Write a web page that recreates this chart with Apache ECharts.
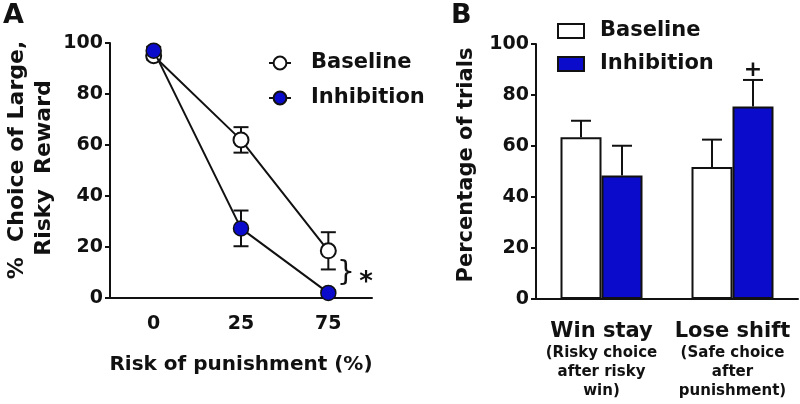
<!DOCTYPE html>
<html>
<head>
<meta charset="utf-8">
<script src="https://cdn.jsdelivr.net/npm/echarts@6/dist/echarts.min.js"></script>
<style>
  html, body { margin: 0; padding: 0; background: #fff; }
  #chart { width: 800px; height: 404px; }
</style>
</head>
<body>
<div id="chart"></div>
<script>
// ---------- Data ----------
const categoriesA = ['0', '25', '75'];
const baselineA = [95, 62, 18.5];
const baselineErrA = [1.5, 5, 7.3];
const inhibitionA = [97, 27.3, 2];
const inhibitionErrA = [1.5, 7, 1];

const categoriesB = ['Win stay', 'Lose shift'];
const subLabelsB = [['(Risky choice', 'after risky', 'win)'], ['(Safe choice', 'after', 'punishment)']];
const baselineB = [63.4, 51.8];
const baselineErrB = [6.5, 10.7];
const inhibitionB = [48.4, 75.5];
const inhibitionErrB = [11.7, 10.4];

const yTickInterval = 20;
const yMin = 0, yMax = 100;

// ---------- Styling ----------
const FONT = 'DejaVu Sans';
const BLUE = '#0b0bcc';
const INK = '#111111';
const BAR_W = 41;

function errBarsSym(values, errs) {
  return values.map((v, i) => [i, v - errs[i], v + errs[i]]);
}
function errBarsUp(values, errs) {
  return values.map((v, i) => [i, v, v + errs[i]]);
}
function errorRenderer(offset, capHalf) {
  return function (params, api) {
    const x = api.value(0);
    const lo = api.coord([x, api.value(1)]);
    const hi = api.coord([x, api.value(2)]);
    const cx = lo[0] + offset;
    const style = { stroke: INK, lineWidth: 2 };
    return {
      type: 'group',
      children: [
        { type: 'line', shape: { x1: cx, y1: lo[1], x2: cx, y2: hi[1] }, style },
        { type: 'line', shape: { x1: cx - capHalf, y1: hi[1], x2: cx + capHalf, y2: hi[1] }, style },
        { type: 'line', shape: { x1: cx - capHalf, y1: lo[1], x2: cx + capHalf, y2: lo[1] }, style }
      ]
    };
  };
}
function errorRendererUp(offset, capHalf) {
  return function (params, api) {
    const x = api.value(0);
    const lo = api.coord([x, api.value(1)]);
    const hi = api.coord([x, api.value(2)]);
    const cx = lo[0] + offset;
    const style = { stroke: INK, lineWidth: 2 };
    return {
      type: 'group',
      children: [
        { type: 'line', shape: { x1: cx, y1: lo[1], x2: cx, y2: hi[1] }, style },
        { type: 'line', shape: { x1: cx - capHalf, y1: hi[1], x2: cx + capHalf, y2: hi[1] }, style }
      ]
    };
  };
}

const axisLineStyle = { color: INK, width: 2 };
const tickLabelStyle = { fontFamily: FONT, fontWeight: 'bold', fontSize: 19, color: INK };

const chart = echarts.init(document.getElementById('chart'), null, { renderer: 'canvas' });

const option = {
  backgroundColor: '#ffffff',
  animation: false,
  textStyle: { fontFamily: FONT },
  grid: [
    { left: 110, top: 43, width: 262, height: 255, containLabel: false },
    { left: 536, top: 44, width: 262, height: 255, containLabel: false }
  ],
  legend: [
    {
      data: ['A:Baseline', 'A:Inhibition'],
      orient: 'vertical', left: 268, top: 52, itemGap: 13, padding: 0,
      itemWidth: 22, itemHeight: 16,
      selectedMode: false,
      formatter: n => n.split(':')[1],
      textStyle: { fontFamily: FONT, fontWeight: 'bold', fontSize: 21, color: INK, lineHeight: 22, padding: [0, 0, 0, 15] }
    },
    {
      data: ['B:Baseline', 'B:Inhibition'],
      orient: 'vertical', left: 557, top: 20, itemGap: 11, padding: 0,
      itemWidth: 26, itemHeight: 14, icon: 'rect',
      selectedMode: false,
      formatter: n => n.split(':')[1],
      textStyle: { fontFamily: FONT, fontWeight: 'bold', fontSize: 21, color: INK, lineHeight: 22, padding: [0, 0, 0, 11] }
    }
  ],
  xAxis: [
    {
      gridIndex: 0, type: 'category', data: categoriesA, boundaryGap: true,
      axisLine: { lineStyle: axisLineStyle },
      axisTick: { alignWithLabel: true, length: 6, lineStyle: { color: INK, width: 2 } },
      axisLabel: Object.assign({ margin: 17 }, tickLabelStyle),
      name: 'Risk of punishment (%)', nameLocation: 'middle', nameGap: 57,
      nameTextStyle: { fontFamily: FONT, fontWeight: 'bold', fontSize: 20, color: INK }
    },
    {
      gridIndex: 1, type: 'category', data: categoriesB, boundaryGap: true,
      axisLine: { lineStyle: axisLineStyle },
      axisTick: { alignWithLabel: true, length: 6, lineStyle: { color: INK, width: 2 } },
      axisLabel: {
        margin: 20, interval: 0,
        formatter: (v, i) => '{a|' + v + '}\n' + subLabelsB[i].map(s => '{b|' + s + '}').join('\n'),
        rich: {
          a: { fontFamily: FONT, fontWeight: 'bold', fontSize: 21, color: INK, lineHeight: 25 },
          b: { fontFamily: FONT, fontWeight: 'bold', fontSize: 15, color: INK, lineHeight: 19 }
        }
      }
    }
  ],
  yAxis: [
    {
      gridIndex: 0, type: 'value', min: yMin, max: yMax, interval: yTickInterval,
      axisLine: { show: true, lineStyle: axisLineStyle },
      axisTick: { show: true, length: 5, lineStyle: { color: INK, width: 2 } },
      splitLine: { show: false },
      axisLabel: Object.assign({ margin: 7 }, tickLabelStyle)
    },
    {
      gridIndex: 1, type: 'value', min: yMin, max: yMax, interval: yTickInterval,
      axisLine: { show: true, lineStyle: axisLineStyle },
      axisTick: { show: true, length: 5, lineStyle: { color: INK, width: 2 } },
      splitLine: { show: false },
      axisLabel: Object.assign({ margin: 7 }, tickLabelStyle)
    }
  ],
  series: [
    // ----- Panel A -----
    {
      type: 'custom', name: 'A:errBaseline', xAxisIndex: 0, yAxisIndex: 0, z: 1,
      renderItem: errorRenderer(0, 7.5), data: errBarsSym(baselineA, baselineErrA), silent: true
    },
    {
      type: 'custom', name: 'A:errInhibition', xAxisIndex: 0, yAxisIndex: 0, z: 1,
      renderItem: errorRenderer(0, 7.5), data: errBarsSym(inhibitionA, inhibitionErrA), silent: true
    },
    {
      type: 'line', name: 'A:Baseline', xAxisIndex: 0, yAxisIndex: 0, z: 3, clip: false,
      data: baselineA, symbol: 'circle', symbolSize: 15,
      lineStyle: { color: INK, width: 2 },
      itemStyle: { color: '#ffffff', borderColor: INK, borderWidth: 2 }
    },
    {
      type: 'line', name: 'A:Inhibition', xAxisIndex: 0, yAxisIndex: 0, z: 4, clip: false,
      data: inhibitionA, symbol: 'circle', symbolSize: 15,
      lineStyle: { color: INK, width: 2 },
      itemStyle: { color: BLUE, borderColor: INK, borderWidth: 1.5 }
    },
    // ----- Panel B -----
    {
      type: 'bar', name: 'B:Baseline', xAxisIndex: 1, yAxisIndex: 1, z: 2,
      data: baselineB, barWidth: BAR_W, barGap: '0%',
      itemStyle: { color: '#ffffff', borderColor: INK, borderWidth: 2 }
    },
    {
      type: 'bar', name: 'B:Inhibition', xAxisIndex: 1, yAxisIndex: 1, z: 2,
      data: inhibitionB, barWidth: BAR_W, barGap: '0%',
      itemStyle: { color: BLUE, borderColor: INK, borderWidth: 2 }
    },
    {
      type: 'custom', name: 'B:errBaseline', xAxisIndex: 1, yAxisIndex: 1, z: 3,
      renderItem: errorRendererUp(-BAR_W / 2, 10), data: errBarsUp(baselineB, baselineErrB), silent: true
    },
    {
      type: 'custom', name: 'B:errInhibition', xAxisIndex: 1, yAxisIndex: 1, z: 3,
      renderItem: errorRendererUp(BAR_W / 2, 10), data: errBarsUp(inhibitionB, inhibitionErrB), silent: true
    }
  ],
  graphic: [
    { type: 'text', left: 3, top: 2, style: { text: 'A', fontFamily: FONT, fontWeight: 'bold', fontSize: 27, fill: INK } },
    { type: 'text', left: 451, top: 2, style: { text: 'B', fontFamily: FONT, fontWeight: 'bold', fontSize: 27, fill: INK } },
    { type: 'text', x: 17, y: 160, rotation: Math.PI / 2,
      style: { text: '%  Choice of Large,', fontFamily: FONT, fontWeight: 'bold', fontSize: 22, fill: INK, align: 'center', verticalAlign: 'middle' } },
    { type: 'text', x: 44, y: 168, rotation: Math.PI / 2,
      style: { text: 'Risky  Reward', fontFamily: FONT, fontWeight: 'bold', fontSize: 22, fill: INK, align: 'center', verticalAlign: 'middle' } },
    { type: 'text', x: 467, y: 165, rotation: Math.PI / 2,
      style: { text: 'Percentage of trials', fontFamily: FONT, fontWeight: 'bold', fontSize: 21, fill: INK, align: 'center', verticalAlign: 'middle' } },
    { type: 'text', x: 346, y: 274,
      style: { text: '}', fontFamily: FONT, fontWeight: 'normal', fontSize: 28, fill: INK, align: 'center', verticalAlign: 'middle' } },
    { type: 'text', x: 366, y: 283,
      style: { text: '*', fontFamily: FONT, fontWeight: 'bold', fontSize: 26, fill: INK, align: 'center', verticalAlign: 'middle' } },
    { type: 'text', x: 753, y: 70,
      style: { text: '+', fontFamily: FONT, fontWeight: 'bold', fontSize: 22, fill: INK, align: 'center', verticalAlign: 'middle' } }
  ]
};

chart.setOption(option);
</script>
</body>
</html>
